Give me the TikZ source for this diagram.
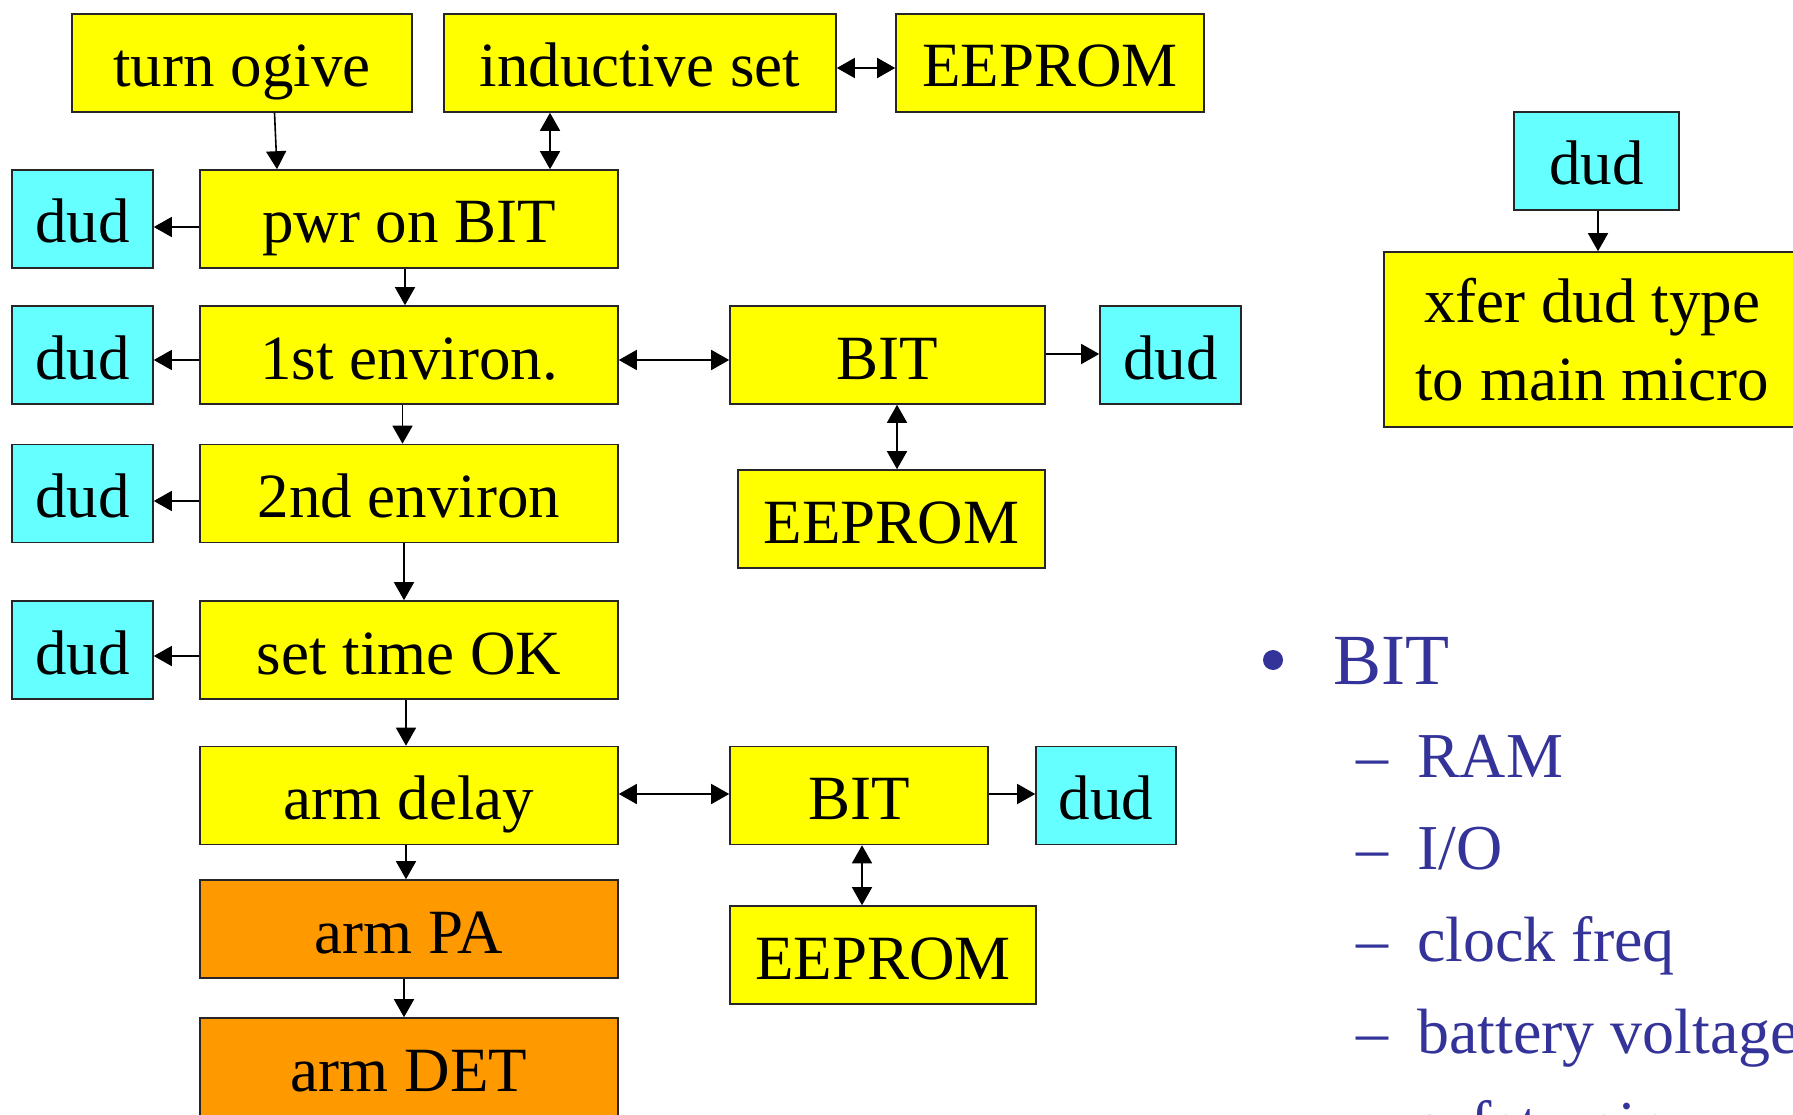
\documentclass[tikz,border=0pt]{standalone}
\usepackage{fontspec}
\setmainfont{Liberation Serif}
\usetikzlibrary{arrows.meta}
\definecolor{boxyellow}{HTML}{FFFF00}
\definecolor{boxcyan}{HTML}{66FFFF}
\definecolor{boxorange}{HTML}{FF9900}
\definecolor{listblue}{HTML}{333399}
\begin{document}
\begin{tikzpicture}[x=1pt,y=-1pt,
  box/.style={draw=black!85, line width=1.6pt, inner sep=0pt, minimum height=98pt,
    text height=48pt, text depth=0pt, font=\fontsize{63}{75}\selectfont},
  ybox/.style={box, fill=boxyellow},
  cbox/.style={box, fill=boxcyan, minimum width=141pt},
  obox/.style={box, fill=boxorange},
  arr/.style={line width=1.6pt, -{Triangle[length=18pt,width=20pt]}},
  darr/.style={line width=1.6pt, {Triangle[length=18pt,width=20pt]}-{Triangle[length=18pt,width=20pt]}},
  boxline/.style={anchor=base, inner sep=0pt, font=\fontsize{63}{75}\selectfont},
  listitem/.style={anchor=base west, inner sep=0pt, text=listblue, font=\fontsize{64}{77}\selectfont}]
\clip (0,0) rectangle (1793,1115);
\fill[white] (0,0) rectangle (1793,1115);

% top row
\node[ybox, minimum width=340pt] (ogive) at (242,63) {turn ogive};
\node[ybox, minimum width=392pt] (ind) at (640,63) {inductive set};
\node[ybox, minimum width=308pt] (ee1) at (1050,63) {EEPROM};

% main column
\node[ybox, minimum width=418pt] (pwr) at (409,219) {pwr on BIT};
\node[ybox, minimum width=418pt] (env1) at (409,355) {1st environ.};
\node[ybox, minimum width=418pt] (env2) at (409,493.5) {2nd environ};
\node[ybox, minimum width=418pt] (settime) at (409,650) {set time OK};
\node[ybox, minimum width=418pt] (armdelay) at (409,795.5) {arm delay};
\node[obox, minimum width=418pt] (armpa) at (409,929) {arm PA};
\node[obox, minimum width=418pt] (armdet) at (409,1067) {arm DET};

% left duds
\node[cbox] (dud1) at (82.5,219) {dud};
\node[cbox] (dud2) at (82.5,355) {dud};
\node[cbox] (dud3) at (82.5,493.5) {dud};
\node[cbox] (dud4) at (82.5,650) {dud};

% BIT groups
\node[ybox, minimum width=315pt] (bit1) at (887.5,355) {BIT};
\node[cbox] (dudr1) at (1170.5,355) {dud};
\node[ybox, minimum width=307pt] (ee2) at (891.5,519) {EEPROM};

\node[ybox, minimum width=258pt] (bit2) at (859,795.5) {BIT};
\node[cbox, minimum width=140pt] (dudr2) at (1106,795.5) {dud};
\node[ybox, minimum width=306pt] (ee3) at (883,955) {EEPROM};

% top right
\node[cbox, minimum width=165pt] (dudtr) at (1596.5,161) {dud};
\node[ybox, minimum width=416pt, minimum height=175pt] (xfer) at (1592,339.5) {};
\node[boxline] (xferA) at (1592,323) {xfer dud type};
\node[boxline] (xferB) at (1592,400) {to main micro};

% connectors
\draw[arr] (ogive.south -| 274.5,0) -- (pwr.north -| 277,0);
\draw[darr] (ind.south -| 550,0) -- (pwr.north -| 550,0);
\draw[darr] (ind.east |- 0,68) -- (ee1.west |- 0,68);
\draw[arr] (pwr.west |- 0,227) -- (dud1.east |- 0,227);
\draw[arr] (pwr.south -| 405,0) -- (env1.north -| 405,0);
\draw[arr] (env1.west |- 0,360) -- (dud2.east |- 0,360);
\draw[darr] (env1.east |- 0,360) -- (bit1.west |- 0,360);
\draw[arr] (bit1.east |- 0,354) -- (dudr1.west |- 0,354);
\draw[darr] (bit1.south -| 897,0) -- (ee2.north -| 897,0);
\draw[arr] (env1.south -| 402.5,0) -- (env2.north -| 402.5,0);
\draw[arr] (env2.west |- 0,501) -- (dud3.east |- 0,501);
\draw[arr] (env2.south -| 404,0) -- (settime.north -| 404,0);
\draw[arr] (settime.west |- 0,656) -- (dud4.east |- 0,656);
\draw[arr] (settime.south -| 406,0) -- (armdelay.north -| 406,0);
\draw[darr] (armdelay.east |- 0,794) -- (bit2.west |- 0,794);
\draw[arr] (bit2.east |- 0,794) -- (dudr2.west |- 0,794);
\draw[darr] (bit2.south -| 862,0) -- (ee3.north -| 862,0);
\draw[arr] (armdelay.south -| 406,0) -- (armpa.north -| 406,0);
\draw[arr] (armpa.south -| 404,0) -- (armdet.north -| 404,0);
\draw[arr] (dudtr.south -| 1598,0) -- (xfer.north -| 1598,0);

% bullet list
\node[circle, fill=listblue, inner sep=0pt, minimum size=20pt] (bul) at (1273,660) {};
\node[listitem, font=\fontsize{72}{86}\selectfont] (lbit) at (1333,684) {BIT};
\node[listitem] (d1) at (1356,777) {–};
\node[listitem] (l1) at (1417,777) {RAM};
\node[listitem] (d2) at (1356,869) {–};
\node[listitem] (l2) at (1417,869) {I/O};
\node[listitem] (d3) at (1356,961) {–};
\node[listitem] (l3) at (1417,961) {clock freq};
\node[listitem] (d4) at (1356,1053) {–};
\node[listitem] (l4) at (1417,1053) {battery voltage};
\node[listitem] (d5) at (1356,1145) {–};
\node[listitem] (l5) at (1417,1145) {safety pin};
\end{tikzpicture}
\end{document}
